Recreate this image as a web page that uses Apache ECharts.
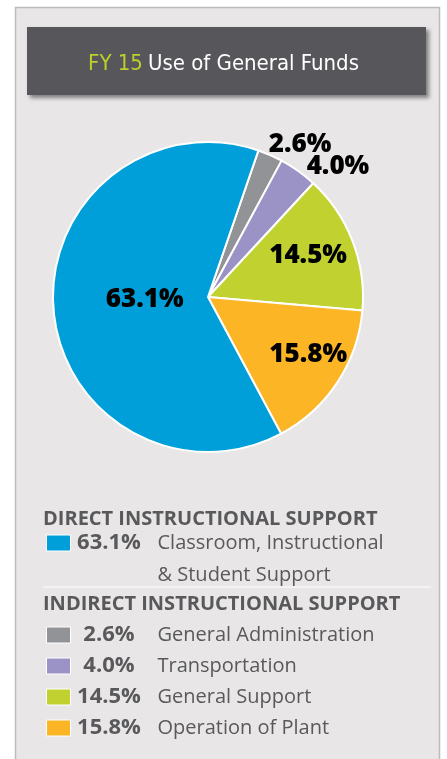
<!DOCTYPE html>
<html>
<head>
<meta charset="utf-8">
<script src="https://cdn.jsdelivr.net/npm/echarts@6/dist/echarts.min.js"></script>
<style>
  html, body { margin: 0; padding: 0; background: #fff; }
  #chart { width: 447px; height: 759px; }
</style>
</head>
<body>
<div id="chart"></div>
<script>
// data, in pie order (clockwise from the top)
var names = ['General Administration', 'Transportation', 'General Support', 'Operation of Plant', 'Classroom, Instructional & Student Support'];
var values = [2.6, 4.0, 14.5, 15.8, 63.1];
var colors = ['#929396', '#9b93c6', '#c1d230', '#fbb525', '#019fda'];
var directNames = ['Classroom, Instructional & Student Support'];
var indirectNames = ['General Administration', 'Transportation', 'General Support', 'Operation of Plant'];

var chart = echarts.init(document.getElementById('chart'));
var textFont = '"Open Sans", sans-serif';
var textCol = '#59595b';
var narrow = '"DejaVu Sans Condensed", "Liberation Sans Narrow", sans-serif';

// label tweaks per slice (small slices sit outside)
var labelCfg = [
  { position: 'outside', offset: [-9, -5] },
  { position: 'outside', offset: [0, 1] },
  { position: 'inside', offset: [25, -12] },
  { position: 'inside', offset: [33, 13] },
  { position: 'inside', offset: [17, -4] }
];

var pieData = names.map(function (n, i) {
  return {
    name: n,
    value: values[i],
    itemStyle: { color: colors[i] },
    label: labelCfg[i]
  };
});

function fmtLegend(name) {
  var v = values[names.indexOf(name)].toFixed(1) + '%';
  if (name === directNames[0]) {
    return '{p|' + v + '}{n|Classroom, Instructional}\n{s|}{n|& Student Support}';
  }
  return '{p|' + v + '}{n|' + name + '}';
}

var rich = {
  p: { fontFamily: textFont, fontWeight: 'bold', fontSize: 22, color: textCol, width: 67, align: 'right', lineHeight: 32 },
  n: { fontFamily: textFont, fontSize: 20, color: textCol, padding: [0, 0, 0, 15], lineHeight: 32 },
  s: { width: 67, lineHeight: 32 }
};

var option = {
  backgroundColor: '#fff',
  graphic: [
    { type: 'rect', z: -10, shape: { x: 15.5, y: 7.5, width: 424, height: 760 },
      style: { fill: '#e8e6e7', stroke: '#bcbcbc', lineWidth: 1.5 } },
    { type: 'rect', z: -5, shape: { x: 27, y: 27, width: 399, height: 68 },
      style: { fill: '#57565b', shadowBlur: 4, shadowOffsetX: 3, shadowOffsetY: 3, shadowColor: 'rgba(0,0,0,0.45)' } },
    { type: 'line', shape: { x1: 43, y1: 587, x2: 431, y2: 587 },
      style: { stroke: '#ffffff', lineWidth: 1.2 } }
  ],
  title: [
    {
      text: '{a|FY 15} {b|Use of General Funds}',
      left: 'center', top: 48,
      textStyle: {
        rich: {
          a: { color: '#bccf2a', fontSize: 22, fontWeight: 'normal', fontFamily: narrow },
          b: { color: '#ffffff', fontSize: 22, fontWeight: 'normal', fontFamily: narrow }
        }
      }
    },
    {
      text: 'DIRECT INSTRUCTIONAL SUPPORT', left: 38, top: 504,
      textStyle: { fontFamily: textFont, fontWeight: 'bold', fontSize: 20, color: textCol }
    },
    {
      text: 'INDIRECT INSTRUCTIONAL SUPPORT', left: 38, top: 589,
      textStyle: { fontFamily: textFont, fontWeight: 'bold', fontSize: 20, color: textCol }
    }
  ],
  legend: [
    {
      data: directNames, orient: 'vertical', left: 41, top: 527,
      icon: 'rect', itemWidth: 24, itemHeight: 16,
      itemStyle: { borderColor: '#fff', borderWidth: 1 },
      formatter: fmtLegend,
      textStyle: { rich: rich, padding: [32, 0, 0, 0] },
      selectedMode: false
    },
    {
      data: indirectNames, orient: 'vertical', left: 41, top: 619, itemGap: 9,
      icon: 'rect', itemWidth: 24, itemHeight: 16,
      itemStyle: { borderColor: '#fff', borderWidth: 1 },
      formatter: fmtLegend,
      textStyle: { rich: rich },
      selectedMode: false
    }
  ],
  series: [{
    type: 'pie',
    center: [208, 297],
    radius: 155,
    startAngle: 71,
    clockwise: true,
    animation: false,
    avoidLabelOverlap: false,
    labelLayout: { hideOverlap: false },
    itemStyle: { borderColor: '#fff', borderWidth: 2 },
    label: {
      formatter: function (p) { return p.value.toFixed(1) + '%'; },
      fontFamily: textFont, fontWeight: 800, fontSize: 26, color: '#000'
    },
    labelLine: { show: false, length: 6, length2: 0 },
    data: pieData
  }]
};

chart.setOption(option);
</script>
</body>
</html>
